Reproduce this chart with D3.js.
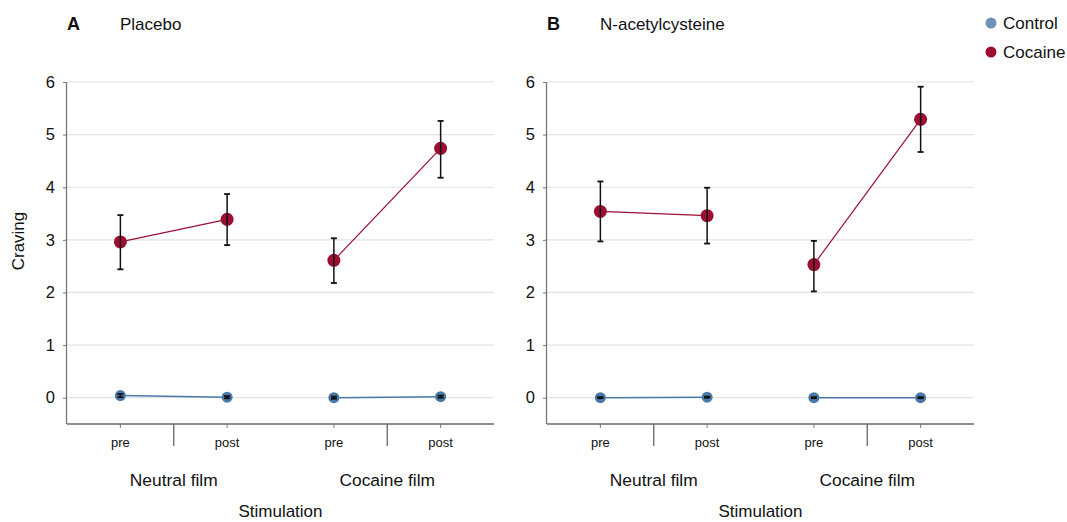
<!DOCTYPE html>
<html><head><meta charset="utf-8">
<script src="https://cdn.jsdelivr.net/npm/d3@7"></script>
<style>body{margin:0;background:#fff}svg{font-family:"Liberation Sans",Arial,sans-serif}</style>
</head><body><svg id="c" width="1067" height="522"></svg>
<script>
const conditions = ["Neutral film|pre","Neutral film|post","Cocaine film|pre","Cocaine film|post"];
const timeLabels = ["pre","post","pre","post"];
const filmLabels = ["Neutral film","Cocaine film"];
const yTicks = [0,1,2,3,4,5,6];
const panels = ["Placebo","N-acetylcysteine"];
const panelLetters = ["A","B"];
const seriesNames = ["Control","Cocaine"];
// Panel A (Placebo)
const placeboControl = [0.04,0.01,0.00,0.02];
const placeboControlLo = [0.01,-0.01,-0.02,0.00];
const placeboControlHi = [0.07,0.03,0.02,0.04];
const placeboCocaine = [2.96,3.39,2.61,4.74];
const placeboCocaineLo = [2.44,2.90,2.18,4.18];
const placeboCocaineHi = [3.47,3.87,3.03,5.26];
// Panel B (N-acetylcysteine)
const nacControl = [0.00,0.01,0.00,0.00];
const nacControlLo = [-0.01,0.00,-0.01,-0.01];
const nacControlHi = [0.01,0.02,0.01,0.01];
const nacCocaine = [3.54,3.46,2.53,5.29];
const nacCocaineLo = [2.97,2.93,2.02,4.67];
const nacCocaineHi = [4.11,3.99,2.98,5.91];

const data = [
  {Control:{v:placeboControl,lo:placeboControlLo,hi:placeboControlHi},Cocaine:{v:placeboCocaine,lo:placeboCocaineLo,hi:placeboCocaineHi}},
  {Control:{v:nacControl,lo:nacControlLo,hi:nacControlHi},Cocaine:{v:nacCocaine,lo:nacCocaineLo,hi:nacCocaineHi}}
];
const colors = {Control:"#4a79a8",Cocaine:"#9c0f33"};
const legendColors = {Control:"#6e93b8",Cocaine:"#9c0f33"};
const radius = {Control:5.5,Cocaine:6.5};

const svg = d3.select("#c");
const panelX = [67,547], pw = 427, plotTop = 82, plotBottom = 424;
const y = d3.scaleLinear().domain([-0.5,6]).range([plotBottom, plotTop]);
panels.forEach((pname, pi) => {
  const g = svg.append("g").attr("transform",`translate(${panelX[pi]},0)`);
  const x = d3.scaleBand().domain(conditions).range([0,pw]);
  const cx = c => x(c) + x.bandwidth()/2;
  g.selectAll(".grid").data(yTicks).join("line")
    .attr("x1",0).attr("x2",pw).attr("y1",d=>y(d)).attr("y2",d=>y(d))
    .attr("stroke","#e2e2e2").attr("stroke-width",1.2);
  const ya = g.append("g").call(d3.axisLeft(y).tickValues(yTicks).tickFormat(d3.format("d")).tickSize(4).tickSizeOuter(0).tickPadding(8));
  ya.select(".domain").attr("stroke","#777").attr("stroke-width",1.3).attr("d",`M-0.5,${plotTop}V${plotBottom}`);
  ya.selectAll(".tick line").attr("stroke","#777");
  ya.selectAll("text").attr("font-size",16.5).attr("fill","#111").attr("font-family","Liberation Sans, Arial, sans-serif");
  g.append("line").attr("x1",0).attr("x2",pw).attr("y1",plotBottom).attr("y2",plotBottom).attr("stroke","#666").attr("stroke-width",1.3);
  g.selectAll(".xt").data(conditions).join("line")
    .attr("x1",d=>cx(d)).attr("x2",d=>cx(d)).attr("y1",plotBottom).attr("y2",plotBottom+4).attr("stroke","#777");
  g.selectAll(".sep").data([conditions[1],conditions[3]]).join("line")
    .attr("x1",d=>x(d)).attr("x2",d=>x(d)).attr("y1",plotBottom).attr("y2",plotBottom+22).attr("stroke","#666").attr("stroke-width",1.3);
  g.selectAll(".tl").data(conditions).join("text")
    .attr("x",d=>cx(d)).attr("y",plotBottom+23).attr("text-anchor","middle").attr("font-size",13).attr("fill","#111")
    .text((d,i)=>timeLabels[i]);
  g.selectAll(".fl").data(filmLabels).join("text")
    .attr("x",(d,i)=>x(conditions[i*2+1])).attr("y",486).attr("text-anchor","middle").attr("font-size",17.4).attr("fill","#111")
    .text(d=>d);
  g.append("text").attr("x",pw/2).attr("y",517).attr("text-anchor","middle").attr("font-size",17).attr("fill","#111").text("Stimulation");
  g.append("text").attr("x",0).attr("y",30).attr("font-size",18).attr("font-weight","bold").attr("fill","#111").text(panelLetters[pi]);
  g.append("text").attr("x",53).attr("y",30).attr("font-size",17).attr("fill","#111").text(pname);
  seriesNames.forEach(s => {
    const d = data[pi][s];
    const pts = conditions.map((c,i)=>({c,v:d.v[i],lo:d.lo[i],hi:d.hi[i],seg:Math.floor(i/2)}));
    [0,1].forEach(seg=>{
      const sp = pts.filter(p=>p.seg===seg);
      g.append("path").datum(sp).attr("fill","none").attr("stroke",colors[s]).attr("stroke-width",s==="Control"?1.5:1.2)
        .attr("d",d3.line().x(p=>cx(p.c)).y(p=>y(p.v)));
    });
    g.selectAll(null).data(pts).join("circle")
      .attr("cx",p=>cx(p.c)).attr("cy",p=>y(p.v)).attr("r",radius[s]).attr("fill",colors[s]);
    const eb = g.selectAll(null).data(pts).join("g");
    eb.append("line").attr("x1",p=>cx(p.c)).attr("x2",p=>cx(p.c)).attr("y1",p=>y(p.lo)).attr("y2",p=>y(p.hi)).attr("stroke","#111").attr("stroke-width",1.5);
    eb.append("line").attr("x1",p=>cx(p.c)-3).attr("x2",p=>cx(p.c)+3).attr("y1",p=>y(p.lo)).attr("y2",p=>y(p.lo)).attr("stroke","#111").attr("stroke-width",1.8);
    eb.append("line").attr("x1",p=>cx(p.c)-3).attr("x2",p=>cx(p.c)+3).attr("y1",p=>y(p.hi)).attr("y2",p=>y(p.hi)).attr("stroke","#111").attr("stroke-width",1.8);
  });
});
svg.append("text").attr("transform","translate(24,241) rotate(-90)").attr("text-anchor","middle").attr("font-size",17).attr("fill","#111").text("Craving");
const lg = svg.append("g");
seriesNames.forEach((s,i)=>{
  lg.append("circle").attr("cx",991).attr("cy",23+i*29).attr("r",5.5).attr("fill",legendColors[s]);
  lg.append("text").attr("x",1003).attr("y",29+i*29).attr("font-size",17).attr("fill","#111").text(s);
});
</script></body></html>
